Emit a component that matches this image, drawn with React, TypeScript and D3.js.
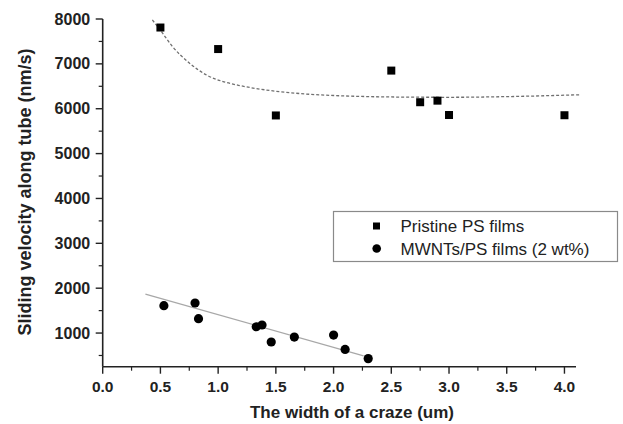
import React from "react";
import * as d3 from "d3";

const pristineX = [0.5, 1.0, 1.5, 2.5, 2.75, 2.9, 3.0, 4.0];
const pristineY = [7810, 7330, 5850, 6850, 6145, 6180, 5860, 5855];

const mwntX = [0.53, 0.8, 0.83, 1.33, 1.38, 1.46, 1.66, 2.0, 2.1, 2.3];
const mwntY = [1610, 1670, 1320, 1140, 1180, 800, 910, 955, 635, 430];

const expFitX = [0.43, 0.5, 0.6, 0.75, 0.9, 1.05, 1.2, 1.5, 1.75, 2.0, 2.5, 3.0, 3.5, 4.14];
const expFitY = [7980, 7750, 7400, 7020, 6750, 6600, 6510, 6390, 6330, 6295, 6262, 6255, 6270, 6312];

const linFitX = [0.37, 2.26];
const linFitY = [1870, 490];

const xTicks = [0, 0.5, 1.0, 1.5, 2.0, 2.5, 3.0, 3.5, 4.0];
const xMinorTicks = [0.25, 0.75, 1.25, 1.75, 2.25, 2.75, 3.25, 3.75];
const yTicks = [1000, 2000, 3000, 4000, 5000, 6000, 7000, 8000];
const yMinorTicks = [500, 1500, 2500, 3500, 4500, 5500, 6500, 7500];

const legendLabels = ["Pristine PS films", "MWNTs/PS films (2 wt%)"];
const xTitle = "The width of a craze (um)";
const yTitle = "Sliding velocity along tube (nm/s)";

export default function App() {
  const W = 623, H = 424;
  const x = d3.scaleLinear().domain([0, 4.1]).range([102.7, 576]);
  const y = d3.scaleLinear().domain([250, 8000]).range([366.7, 19]);
  const font = "'Liberation Sans', Arial, sans-serif";

  const expLine = d3
    .line<number>()
    .x((_, i) => x(expFitX[i]))
    .y((d) => y(d))
    .curve(d3.curveMonotoneX)(expFitY) as string;
  const linLine = d3
    .line<number>()
    .x((_, i) => x(linFitX[i]))
    .y((d) => y(d))(linFitY) as string;

  const x0 = x.range()[0];
  const yb = y.range()[0];

  return (
    <svg
      width={W}
      height={H}
      style={{ position: "absolute", left: 0, top: 0, background: "#fff" }}
      fontFamily={font}
    >
      <rect width={W} height={H} fill="#fff" />
      {/* fits */}
      <path d={expLine} fill="none" stroke="#707070" strokeWidth={1.3} strokeDasharray="3,2" />
      <path d={linLine} fill="none" stroke="#a8a8a8" strokeWidth={1.3} />

      {/* axes */}
      <line x1={x0} x2={x0} y1={y(8000)} y2={yb} stroke="#222" strokeWidth={1.6} />
      <line x1={x0} x2={x.range()[1]} y1={yb} y2={yb} stroke="#222" strokeWidth={1.6} />
      {xTicks.map((t) => (
        <g key={"xt" + t}>
          <line x1={x(t)} x2={x(t)} y1={yb} y2={yb + 7} stroke="#222" strokeWidth={1.4} />
          <text x={x(t)} y={yb + 25} textAnchor="middle" fontSize={15.5} fontWeight="bold" fill="#222">
            {t.toFixed(1)}
          </text>
        </g>
      ))}
      {xMinorTicks.map((t) => (
        <line key={"xm" + t} x1={x(t)} x2={x(t)} y1={yb} y2={yb + 4} stroke="#222" strokeWidth={1.2} />
      ))}
      {yTicks.map((t) => (
        <g key={"yt" + t}>
          <line x1={x0 - 7} x2={x0} y1={y(t)} y2={y(t)} stroke="#222" strokeWidth={1.4} />
          <text x={x0 - 12.5} y={y(t) + 5.6} textAnchor="end" fontSize={16} fontWeight="bold" fill="#222">
            {t}
          </text>
        </g>
      ))}
      {yMinorTicks.map((t) => (
        <line key={"ym" + t} x1={x0 - 4} x2={x0} y1={y(t)} y2={y(t)} stroke="#222" strokeWidth={1.2} />
      ))}

      {/* titles */}
      <text x={352} y={418} textAnchor="middle" fontSize={17} fontWeight="bold" fill="#222">
        {xTitle}
      </text>
      <text
        transform={`translate(31,192) rotate(-90)`}
        textAnchor="middle"
        fontSize={18}
        fontWeight="bold"
        fill="#222"
      >
        {yTitle}
      </text>

      {/* data */}
      {pristineX.map((v, i) => (
        <rect key={"p" + i} x={x(v) - 4} y={y(pristineY[i]) - 4} width={8} height={8} fill="#000" />
      ))}
      {mwntX.map((v, i) => (
        <circle key={"m" + i} cx={x(v)} cy={y(mwntY[i])} r={4.6} fill="#000" />
      ))}

      {/* legend */}
      <rect x={333.5} y={211.5} width={284} height={50} fill="#fff" stroke="#8a8a8a" strokeWidth={1.2} />
      <rect x={373} y={222.5} width={7} height={7} fill="#000" />
      <text x={400.5} y={232} fontSize={17} fill="#222">
        {legendLabels[0]}
      </text>
      <circle cx={376.7} cy={248.5} r={4.3} fill="#000" />
      <text x={400.5} y={254.5} fontSize={17} fill="#222">
        {legendLabels[1]}
      </text>
    </svg>
  );
}
